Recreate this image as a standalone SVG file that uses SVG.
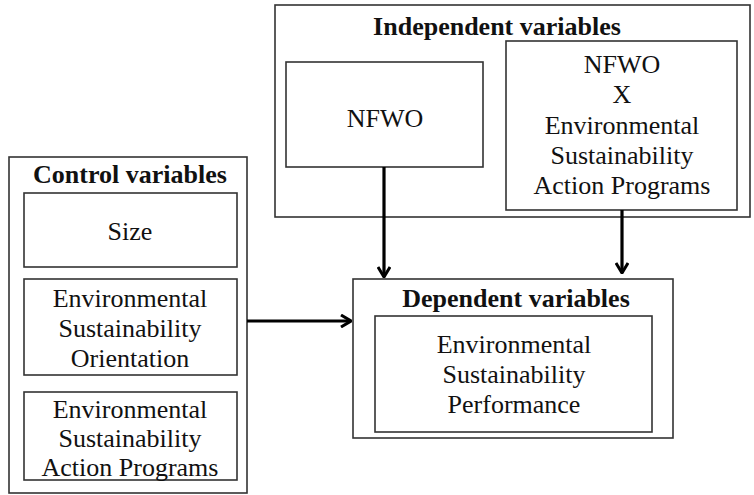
<svg xmlns="http://www.w3.org/2000/svg" width="754" height="495" viewBox="0 0 754 495">
<style>
text{font-family:'Liberation Serif','Times New Roman',Times,serif;font-size:26px;fill:#111;text-anchor:middle}
.b{font-weight:bold}
.box{fill:#fff;stroke:#333;stroke-width:1.6}
.c{stroke:#000;stroke-width:3.2;fill:none}
</style>
<defs>
<marker id="ah" viewBox="0 0 12 14" refX="11" refY="7" markerWidth="12" markerHeight="14" markerUnits="userSpaceOnUse" orient="auto">
<path d="M1,1 L11,7 L1,13" fill="none" stroke="#000" stroke-width="3"/>
</marker>
</defs>
<rect width="754" height="495" fill="#fff"/>
<g id="independent">
<rect class="box" x="275" y="5" width="475" height="212"/>
<text class="b" x="497" y="35">Independent variables</text>
</g>
<g id="nfwo">
<rect class="box" x="286" y="62" width="197" height="105"/>
<text x="385" y="127">NFWO</text>
</g>
<g id="interaction">
<rect class="box" x="506" y="41" width="231" height="169"/>
<text x="622" y="73">NFWO</text>
<text x="622" y="103">X</text>
<text x="622" y="134">Environmental</text>
<text x="622" y="164">Sustainability</text>
<text x="622" y="194">Action Programs</text>
</g>
<g id="control">
<rect class="box" x="9" y="157" width="238" height="336"/>
<text class="b" x="130" y="183">Control variables</text>
</g>
<g id="size">
<rect class="box" x="24" y="193" width="213" height="74"/>
<text x="130" y="240">Size</text>
</g>
<g id="eso">
<rect class="box" x="24" y="279" width="213" height="96"/>
<text x="130" y="307">Environmental</text>
<text x="130" y="337">Sustainability</text>
<text x="130" y="367">Orientation</text>
</g>
<g id="esap">
<rect class="box" x="24" y="392" width="213" height="88"/>
<text x="130" y="418">Environmental</text>
<text x="130" y="447">Sustainability</text>
<text x="130" y="476">Action Programs</text>
</g>
<g id="dependent">
<rect class="box" x="353" y="279" width="320" height="159"/>
<text class="b" x="516" y="307">Dependent variables</text>
</g>
<g id="esp">
<rect class="box" x="375" y="316" width="277" height="116"/>
<text x="514" y="353">Environmental</text>
<text x="514" y="383">Sustainability</text>
<text x="514" y="413">Performance</text>
</g>
<g id="connectors">
<line class="c" x1="384" y1="167" x2="384" y2="277" marker-end="url(#ah)"/>
<line class="c" x1="622" y1="210" x2="622" y2="273" marker-end="url(#ah)"/>
<line class="c" x1="247" y1="321" x2="351" y2="321" marker-end="url(#ah)"/>
</g>
</svg>
